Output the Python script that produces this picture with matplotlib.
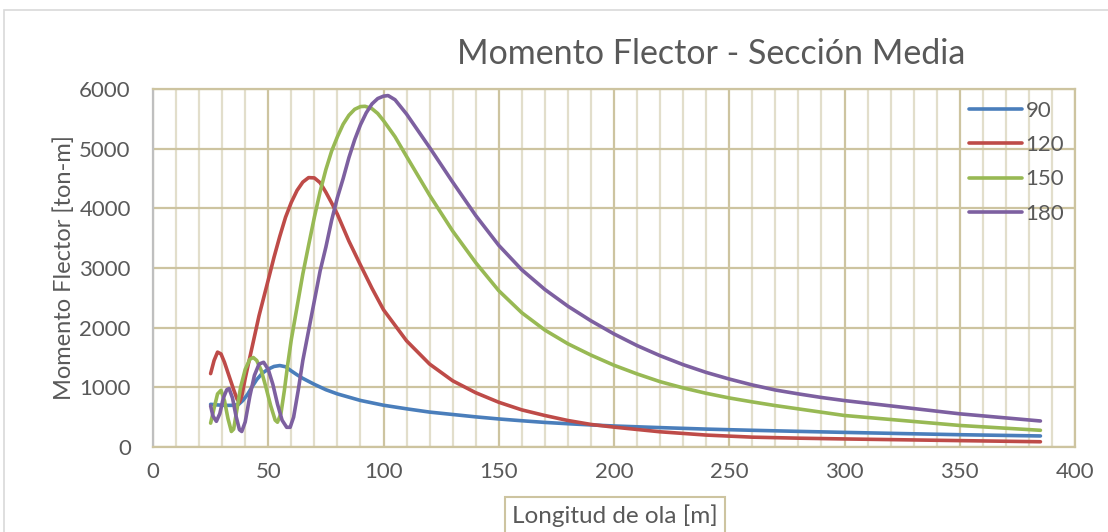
import matplotlib
matplotlib.use("Agg")
import matplotlib.pyplot as plt
from matplotlib.patches import Rectangle

plt.rcParams['font.family'] = ['Lato', 'DejaVu Sans']

# Longitud de ola [m] y momento flector [ton-m] para cada serie
x_90 = [25, 28, 31, 34, 37, 39, 41, 43, 45, 47.5, 50, 52.5, 55, 57.5, 60, 62.5,
        65, 70, 75, 80, 90, 100, 110, 120, 130, 140, 150, 160, 170, 180, 190,
        200, 220, 240, 260, 280, 300, 325, 350, 385]
m_90 = [715, 705, 698, 698, 710, 780, 880, 1010, 1130, 1240, 1305, 1350, 1365,
        1345, 1275, 1210, 1150, 1050, 960, 890, 780, 700, 640, 585, 545, 505,
        470, 440, 412, 390, 370, 352, 325, 300, 280, 262, 245, 225, 206, 185]

x_120 = [25, 26.5, 28, 29.5, 31, 33, 35, 36.5, 37.5, 38.5, 40, 42, 44, 46, 48,
         50, 52.5, 55, 57.5, 60, 62.5, 65, 67.5, 70, 72.5, 75, 77.5, 80, 85,
         90, 95, 100, 110, 120, 130, 140, 150, 160, 170, 180, 190, 200, 220,
         240, 260, 280, 300, 350, 385]
m_120 = [1230, 1450, 1590, 1560, 1420, 1190, 960, 800, 750, 850, 1150, 1500,
         1850, 2200, 2500, 2800, 3180, 3530, 3850, 4100, 4300, 4440, 4515, 4510,
         4430, 4270, 4090, 3900, 3450, 3050, 2660, 2300, 1780, 1390, 1110, 910,
         750, 622, 528, 444, 378, 333, 255, 200, 165, 148, 135, 107, 88]

x_150 = [25, 26.5, 28, 29.5, 31, 32.5, 34, 35, 36.5, 38, 40, 42, 43.5, 45, 47,
         49, 51, 53, 54, 55.5, 57, 58.5, 60, 62.5, 65, 67.5, 70, 72.5, 75,
         77.5, 80, 82.5, 85, 87.5, 90, 92, 95, 97.5, 100, 105, 110, 120, 130,
         140, 150, 160, 170, 180, 190, 200, 210, 220, 230, 240, 250, 260, 270,
         300, 350, 385]
m_150 = [400, 650, 890, 950, 780, 480, 260, 300, 650, 1000, 1300, 1470, 1500,
         1450, 1280, 1000, 700, 450, 415, 560, 950, 1400, 1800, 2350, 2900, 3380,
         3850, 4280, 4650, 4960, 5200, 5410, 5560, 5660, 5705, 5710, 5670, 5590,
         5470, 5200, 4870, 4220, 3620, 3090, 2620, 2250, 1960, 1730, 1540, 1370,
         1225, 1095, 990, 900, 822, 756, 694, 528, 361, 280]

x_180 = [25, 26, 27.5, 29, 30.5, 32, 33, 34.5, 36, 37.5, 38.5, 40, 42, 44, 46,
         48, 50, 52, 54, 56, 58, 59.5, 61, 63, 65, 67.5, 70, 72.5, 75, 77.5, 80,
         82.5, 85, 87.5, 90, 92.5, 95, 97.5, 100, 102, 105, 110, 120, 130, 140,
         150, 160, 170, 180, 190, 200, 210, 220, 230, 240, 250, 260, 270, 280,
         290, 300, 350, 385]
m_180 = [690, 520, 430, 560, 820, 960, 980, 820, 520, 290, 260, 420, 850, 1200,
         1390, 1420, 1300, 1050, 720, 450, 330, 330, 500, 950, 1450, 1950, 2450,
         2950, 3350, 3800, 4180, 4500, 4850, 5150, 5400, 5600, 5750, 5840, 5880,
         5890, 5820, 5580, 5020, 4440, 3880, 3380, 2970, 2640, 2360, 2115, 1895,
         1700, 1530, 1380, 1250, 1139, 1040, 955, 890, 830, 778, 556, 436]

series = [("90", x_90, m_90, "#4A7EBB"),
          ("120", x_120, m_120, "#BE4B48"),
          ("150", x_150, m_150, "#98B954"),
          ("180", x_180, m_180, "#7D60A0")]

gris = "#595959"
tan_mayor = "#CDC4A0"
tan_menor = "#E2DECB"

fig = plt.figure(figsize=(11.08, 5.32), dpi=100)
ax = fig.add_axes([153/1108, 1 - 447/532, 922/1108, 358/532])

for nombre, xs, ys, color in series:
    ax.plot(xs, ys, color=color, lw=2.6, label=nombre, solid_capstyle='round',
            solid_joinstyle='round', zorder=3)

ax.set_xlim(0, 400)
ax.set_ylim(0, 6000)
ax.set_xticks(range(0, 401, 50))
ax.set_xticks(range(0, 401, 10), minor=True)
ax.set_yticks(range(0, 6001, 1000))
ax.grid(which='major', color=tan_mayor, lw=1.6, zorder=1)
ax.xaxis.grid(which='minor', color=tan_menor, lw=1.6, zorder=0)
ax.tick_params(which='both', length=0, labelsize=16, labelcolor=gris)
ax.tick_params(axis='x', pad=11)
ax.tick_params(axis='y', pad=16)

for lado in ['top', 'right', 'bottom']:
    ax.spines[lado].set_color(tan_mayor)
    ax.spines[lado].set_linewidth(1.6)
ax.spines['left'].set_color('#BFBFBF')
ax.spines['left'].set_linewidth(1.6)

ax.set_ylabel("Momento Flector [ton-m]", fontsize=17, color=gris, labelpad=3)
fig.text(615/1108, 1 - 516/532, "Longitud de ola [m]", fontsize=17.5, color=gris,
         ha='center', va='center',
         bbox=dict(boxstyle='square,pad=0.3', fc='white', ec=tan_mayor, lw=1.5))
fig.text(711/1108, 1 - 54/532, "Momento Flector - Sección Media", fontsize=24.5,
         color=gris, ha='center', va='center')

leg = ax.legend(loc='upper right', bbox_to_anchor=(1.003, 1.005), frameon=False,
                fontsize=16, handlelength=2.4, handletextpad=0.15,
                labelspacing=0.65, borderaxespad=0.2)
for t in leg.get_texts():
    t.set_color(gris)

fig.patches.append(Rectangle((4/1108, -0.01), 1.1, 1 - 10/532 + 0.01,
                             transform=fig.transFigure, fill=False,
                             ec='#D9D9D9', lw=1.2))

fig.savefig("out.png", dpi=100)
